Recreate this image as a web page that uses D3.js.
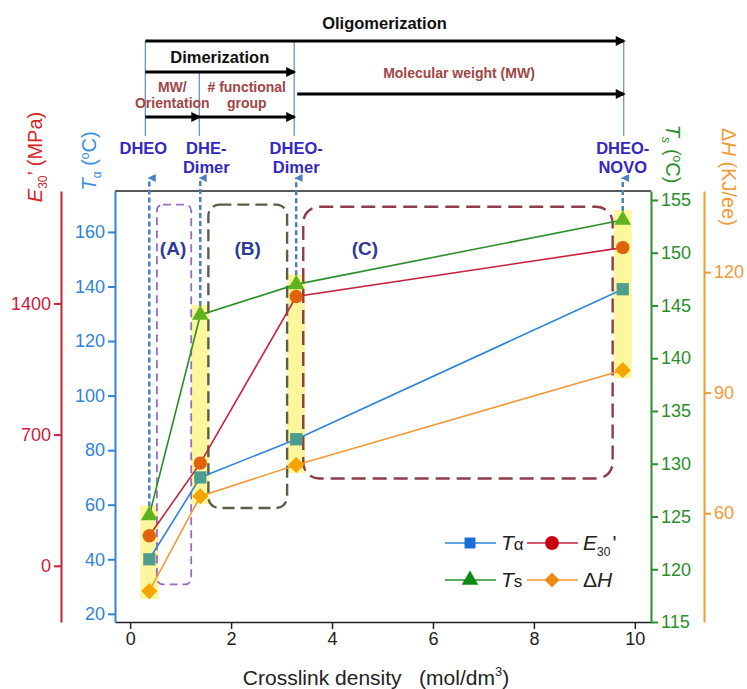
<!DOCTYPE html>
<html>
<head>
<meta charset="utf-8">
<script src="https://cdn.jsdelivr.net/npm/d3@7"></script>
<style>
body { margin: 0; background: #fff; }
svg text { font-family: "Liberation Sans", Arial, sans-serif; }
</style>
</head>
<body>
<div id="chart"></div>
<script>
//Datos
const samples = ['DHEO', 'DHE-Dimer', 'DHEO-Dimer', 'DHEO-NOVO'];
const density = [0.38, 1.39, 3.29, 9.76];
const tAlpha = [40, 70, 84, 139];
const e30 = [160, 548, 1437, 1698];
const tS = [125.1, 144.1, 147, 153.1];
const dH = [40.6, 64.2, 72, 95.6];

const xTicks = [0, 2, 4, 6, 8, 10];
const blueTicks = [20, 40, 60, 80, 100, 120, 140, 160];
const redTicks = [0, 700, 1400];
const greenTicks = [115, 120, 125, 130, 135, 140, 145, 150, 155];
const orangeTicks = [60, 90, 120];

//Colores
const C_BLUE = '#2f84d6', C_RED = '#c9203a', C_GREEN = '#2a8f2a', C_ORANGE = '#f29a35',
      C_LABEL = '#3328bf', C_BROWN = '#a04646', C_GUIDE = '#5b8cc2';

let W = 747, H = 689;
let plot = {left: 115, right: 651, top: 191, bottom: 622};

let svg = d3.select('#chart').append('svg')
    .attr('width', W).attr('height', H);

let x = d3.scaleLinear().domain([-0.3, 10.32]).range([plot.left, plot.right]);
let yBlue = d3.scaleLinear().domain([17, 175]).range([plot.bottom, plot.top]);
let yRed = d3.scaleLinear().domain([-300, 2000]).range([plot.bottom, plot.top]);
let yGreen = d3.scaleLinear().domain([115, 155.85]).range([plot.bottom, plot.top]);
let yOrange = d3.scaleLinear().domain([32.9, 140.2]).range([plot.bottom, plot.top]);

let series = [
    {vals: tAlpha, y: yBlue, line: C_BLUE, fill: '#4f9d8e', sym: d3.symbolSquare, size: 150, rot: 0},
    {vals: e30, y: yRed, line: C_RED, fill: '#e0620c', sym: d3.symbolCircle, size: 140, rot: 0},
    {vals: tS, y: yGreen, line: C_GREEN, fill: '#5fb31c', sym: d3.symbolTriangle, size: 120, rot: 0},
    {vals: dH, y: yOrange, line: C_ORANGE, fill: '#f5a500', sym: d3.symbolSquare, size: 130, rot: 45}
];

//Bandas amarillas
let bands = density.map(function(d, i) {
    let ys = series.map(function(s) { return s.y(s.vals[i]); });
    return {x: x(d), top: d3.min(ys) - 10, bottom: d3.max(ys) + 8};
});
svg.selectAll('.band').data(bands).enter().append('rect')
    .attr('x', function(d) { return d.x - 9; })
    .attr('y', function(d) { return d.top; })
    .attr('width', 18)
    .attr('height', function(d) { return d.bottom - d.top; })
    .attr('fill', '#fbf58c').attr('opacity', 0.85);

//Cajas (A), (B), (C) en unidades de datos
let boxes = [
    {x0: 0.53, x1: 1.21, y0: 170, y1: 30.8, r: 6, color: '#9a6ac8', dash: '8,5', w: 1.8, label: '(A)', lx: 0.85},
    {x0: 1.55, x1: 3.11, y0: 170, y1: 58.8, r: 11, color: '#5a6048', dash: '12,6', w: 2.4, label: '(B)', lx: 2.33},
    {x0: 3.43, x1: 9.56, y0: 169.2, y1: 69.6, r: 16, color: '#8e3c4c', dash: '14,7', w: 2.4, label: '(C)', lx: 4.65}
];
boxes.forEach(function(b) {
    svg.append('rect')
        .attr('x', x(b.x0)).attr('y', yBlue(b.y0))
        .attr('width', x(b.x1) - x(b.x0)).attr('height', yBlue(b.y1) - yBlue(b.y0))
        .attr('rx', b.r).attr('ry', b.r)
        .attr('fill', 'none').attr('stroke', b.color)
        .attr('stroke-width', b.w).attr('stroke-dasharray', b.dash);
    svg.append('text')
        .attr('x', x(b.lx)).attr('y', 255)
        .attr('text-anchor', 'middle')
        .attr('font-size', 19).attr('font-weight', 'bold')
        .attr('fill', '#2b3a92')
        .text(b.label);
});

//Marco superior
svg.append('line')
    .attr('x1', plot.left).attr('x2', plot.right)
    .attr('y1', plot.top).attr('y2', plot.top)
    .attr('stroke', '#222').attr('stroke-width', 1.5);

//Flechas discontinuas hacia las etiquetas
let defs = svg.append('defs');
defs.append('marker').attr('id', 'headBlue')
    .attr('viewBox', '0 0 10 10').attr('refX', 5).attr('refY', 2)
    .attr('markerWidth', 8).attr('markerHeight', 9).attr('markerUnits', 'userSpaceOnUse')
    .attr('orient', 'auto-start-reverse')
    .append('path').attr('d', 'M0,10 L5,0 L10,10 Z').attr('fill', '#4a80c0');
defs.append('marker').attr('id', 'headBlack')
    .attr('viewBox', '0 0 10 10').attr('refX', 8).attr('refY', 5)
    .attr('markerWidth', 12).attr('markerHeight', 10).attr('markerUnits', 'userSpaceOnUse')
    .attr('orient', 'auto')
    .append('path').attr('d', 'M0,0 L10,5 L0,10 Z').attr('fill', '#000');

svg.selectAll('.arrowUp').data(density).enter().append('line')
    .attr('x1', function(d) { return x(d); }).attr('x2', function(d) { return x(d); })
    .attr('y1', function(d, i) { return yGreen(tS[i]) - 9; })
    .attr('y2', 178)
    .attr('stroke', '#4a80c0').attr('stroke-width', 2.5)
    .attr('stroke-dasharray', '5,3')
    .attr('marker-end', 'url(#headBlue)');

//Líneas de series
series.forEach(function(s) {
    svg.append('path')
        .datum(s.vals)
        .attr('fill', 'none').attr('stroke', s.line).attr('stroke-width', 1.6)
        .attr('d', d3.line()
            .x(function(d, i) { return x(density[i]); })
            .y(function(d) { return s.y(d); }));
});
series.forEach(function(s) {
    svg.selectAll(null).data(s.vals).enter().append('path')
        .attr('d', d3.symbol().type(s.sym).size(s.size))
        .attr('transform', function(d, i) {
            return 'translate(' + x(density[i]) + ',' + s.y(d) + ') rotate(' + s.rot + ')';
        })
        .attr('fill', s.fill);
});

//Ejes
function drawAxis(axisFn, scale, pos, major, minor, color, isX) {
    let g = svg.append('g')
        .attr('transform', isX ? 'translate(0,' + pos + ')' : 'translate(' + pos + ',0)');
    g.call(axisFn(scale).tickValues(minor).tickSize(4).tickSizeOuter(0).tickFormat(''));
    g.call(axisFn(scale).tickValues(major).tickSize(7).tickSizeOuter(0).tickPadding(3)
        .tickFormat(d3.format('d')));
    g.selectAll('path, line').attr('stroke', color).attr('stroke-width', isX ? 1.5 : 2);
    g.selectAll('text').attr('fill', isX ? '#222' : color)
        .attr('font-size', 18).attr('font-family', '"Liberation Sans", Arial, sans-serif');
    return g;
}
drawAxis(d3.axisBottom, x, plot.bottom, xTicks, [1, 3, 5, 7, 9], '#222', true);
drawAxis(d3.axisLeft, yBlue, plot.left, blueTicks, [30, 50, 70, 90, 110, 130, 150, 170], C_BLUE, false);
drawAxis(d3.axisLeft, yRed, 61, redTicks, [350, 1050, 1750], C_RED, false);
drawAxis(d3.axisRight, yGreen, plot.right, greenTicks, [117.5, 122.5, 127.5, 132.5, 137.5, 142.5, 147.5, 152.5], C_GREEN, false);
drawAxis(d3.axisRight, yOrange, 704, orangeTicks, [45, 75, 105, 135], C_ORANGE, false);

//Títulos de ejes
let tRed = svg.append('text')
    .attr('transform', 'translate(42,157) rotate(-90)')
    .attr('text-anchor', 'middle').attr('font-size', 20).attr('fill', '#d42626');
tRed.append('tspan').attr('font-style', 'italic').text('E');
tRed.append('tspan').attr('font-size', 12).attr('dy', 5).text('30');
tRed.append('tspan').attr('dy', -5).text('\u2019 (MPa)');

let tBlue = svg.append('text')
    .attr('transform', 'translate(96,161) rotate(-90)')
    .attr('text-anchor', 'middle').attr('font-size', 20).attr('fill', '#3790dc');
tBlue.append('tspan').attr('font-style', 'italic').text('T');
tBlue.append('tspan').attr('font-size', 12).attr('dy', 5).text('\u03b1');
tBlue.append('tspan').attr('dy', -5).text(' (');
tBlue.append('tspan').attr('font-size', 12).attr('dy', -7).text('o');
tBlue.append('tspan').attr('dy', 7).text('C)');

let tGreen = svg.append('text')
    .attr('transform', 'translate(666,154) rotate(90)')
    .attr('text-anchor', 'middle').attr('font-size', 20).attr('fill', C_GREEN);
tGreen.append('tspan').attr('font-style', 'italic').text('T');
tGreen.append('tspan').attr('font-size', 13).attr('dy', 4).attr('font-style', 'italic').text('s');
tGreen.append('tspan').attr('dy', -4).text(' (');
tGreen.append('tspan').attr('font-size', 12).attr('dy', -7).text('o');
tGreen.append('tspan').attr('dy', 7).text('C)');

let tOrange = svg.append('text')
    .attr('transform', 'translate(722,177) rotate(90)')
    .attr('text-anchor', 'middle').attr('font-size', 20).attr('fill', C_ORANGE);
tOrange.append('tspan').text('\u0394');
tOrange.append('tspan').attr('font-style', 'italic').text('H');
tOrange.append('tspan').text(' (KJ/ee)');

let tX = svg.append('text')
    .attr('x', 376).attr('y', 685)
    .attr('text-anchor', 'middle').attr('font-size', 21).attr('fill', '#222')
    .attr('xml:space', 'preserve');
tX.append('tspan').text('Crosslink density   (mol/dm');
tX.append('tspan').attr('font-size', 13).attr('dy', -9).text('3');
tX.append('tspan').attr('dy', 9).text(')');

//Etiquetas de muestras
let labelShift = [-6, 6, 0, 0];
samples.forEach(function(s, i) {
    let parts = s === 'DHEO' ? ['DHEO'] : [s.split('-')[0] + '-', s.split('-')[1]];
    let t = svg.append('text')
        .attr('text-anchor', 'middle').attr('font-size', 16.5).attr('font-weight', 'bold')
        .attr('fill', C_LABEL);
    parts.forEach(function(p, k) {
        t.append('tspan')
            .attr('x', x(density[i]) + labelShift[i])
            .attr('y', 154 + k * 19)
            .text(p);
    });
});

//Anotaciones superiores
let gx = density.map(function(d, i) { return x(d) + [-4, -1, -2, 1][i]; });
let guideTop = [41, 72, 41, 41];
gx.forEach(function(v, i) {
    svg.append('line')
        .attr('x1', v).attr('x2', v).attr('y1', guideTop[i]).attr('y2', 136)
        .attr('stroke', C_GUIDE).attr('stroke-width', 1.2);
});
function bigArrow(x1, x2, y) {
    svg.append('line')
        .attr('x1', x1).attr('x2', x2).attr('y1', y).attr('y2', y)
        .attr('stroke', '#000').attr('stroke-width', 3)
        .attr('marker-end', 'url(#headBlack)');
}
bigArrow(gx[0], gx[3], 41);
bigArrow(gx[0], gx[2], 72);
bigArrow(gx[0], gx[1], 117);
bigArrow(gx[1], gx[2], 117);
bigArrow(gx[2] + 3, gx[3], 94);

function note(txt, cx, y, size, color) {
    svg.append('text').attr('x', cx).attr('y', y)
        .attr('text-anchor', 'middle').attr('font-size', size)
        .attr('font-weight', 'bold').attr('fill', color).text(txt);
}
note('Oligomerization', (gx[0] + gx[3]) / 2, 29, 16.5, '#111');
note('Dimerization', (gx[0] + gx[2]) / 2, 63, 16.5, '#111');
note('Molecular weight (MW)', (gx[2] + gx[3]) / 2, 78, 14, C_BROWN);
note('MW/', (gx[0] + gx[1]) / 2, 92, 14, C_BROWN);
note('Orientation', (gx[0] + gx[1]) / 2, 108, 14, C_BROWN);
note('# functional', (gx[1] + gx[2]) / 2, 92, 14, C_BROWN);
note('group', (gx[1] + gx[2]) / 2, 108, 14, C_BROWN);

//Leyenda
let legend = [
    {name: 'T', sub: '\u03b1', x: 445, y: 543, line: C_BLUE, fill: '#1b6fd8', sym: d3.symbolSquare, size: 120, rot: 0},
    {name: 'E', sub: '30', x: 527, y: 543, line: C_RED, fill: '#c8000e', sym: d3.symbolCircle, size: 150, rot: 0},
    {name: 'T', sub: 's', x: 445, y: 580, line: C_GREEN, fill: '#0f8a12', sym: d3.symbolTriangle, size: 120, rot: 0},
    {name: '\u0394H', sub: '', x: 527, y: 580, line: C_ORANGE, fill: '#f28a14', sym: d3.symbolSquare, size: 110, rot: 45}
];
legend.forEach(function(l) {
    svg.append('line')
        .attr('x1', l.x).attr('x2', l.x + 51).attr('y1', l.y).attr('y2', l.y)
        .attr('stroke', l.line).attr('stroke-width', 1.6);
    svg.append('path')
        .attr('d', d3.symbol().type(l.sym).size(l.size))
        .attr('transform', 'translate(' + (l.x + 25) + ',' + l.y + ') rotate(' + l.rot + ')')
        .attr('fill', l.fill);
    let t = svg.append('text').attr('x', l.x + 56).attr('y', l.y + 7)
        .attr('font-size', 21).attr('fill', '#222');
    if (l.name === '\u0394H') {
        t.append('tspan').text('\u0394');
        t.append('tspan').attr('font-style', 'italic').text('H');
    } else {
        t.append('tspan').attr('font-style', 'italic').text(l.name);
        if (l.sub === '30') {
            t.append('tspan').attr('font-size', 12).attr('dy', 6).text('30');
            t.append('tspan').attr('dx', 2).attr('dy', -6).attr('font-size', 21).text("'");
        } else {
            t.append('tspan').attr('font-size', 17).text(l.sub);
        }
    }
});
</script>
</body>
</html>
